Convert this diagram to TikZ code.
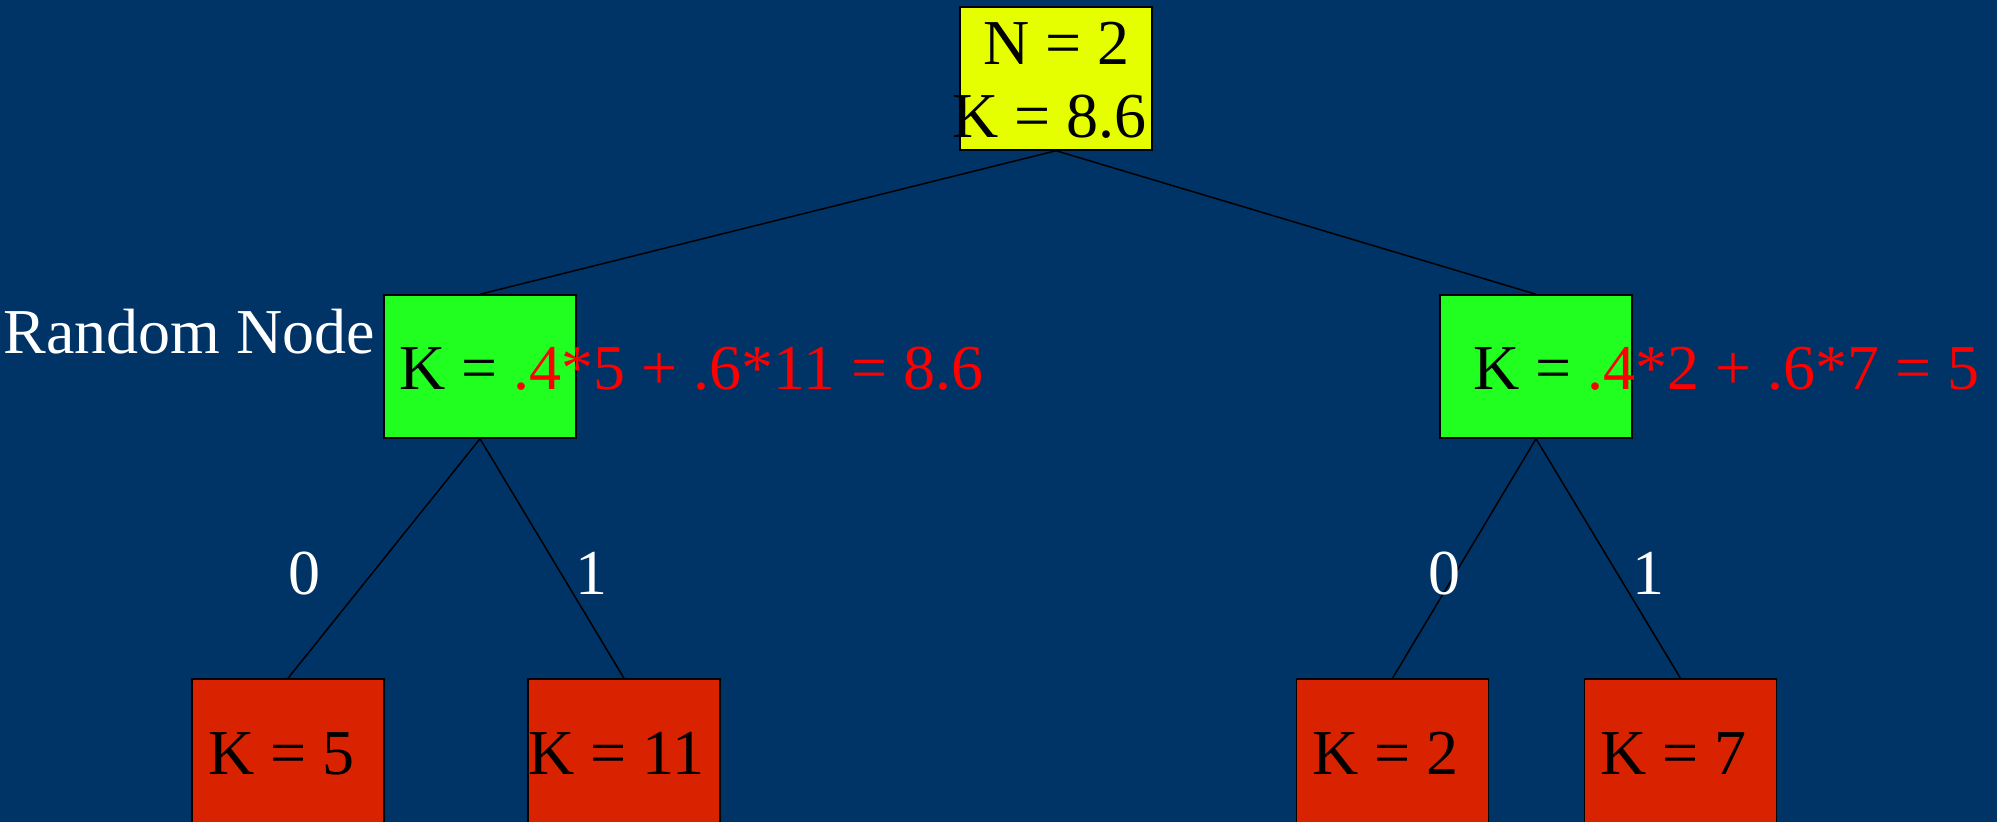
\documentclass[tikz,border=0pt]{standalone}
\usepackage{fontspec}
\setmainfont{Liberation Serif}
\definecolor{bg}{RGB}{0,51,102}
\definecolor{ybox}{RGB}{230,255,0}
\definecolor{gbox}{RGB}{32,255,32}
\definecolor{rbox}{RGB}{217,35,0}
\definecolor{rtxt}{RGB}{255,0,0}
\begin{document}
\begin{tikzpicture}[x=0.5pt,y=-0.5pt,
  boxbase/.style={draw=black,line width=0.75pt,inner sep=0pt,minimum width=96pt},
  rootbox/.style={boxbase,fill=ybox,minimum height=71.5pt},
  randbox/.style={boxbase,fill=gbox,minimum height=71.5pt},
  leafbox/.style={boxbase,fill=rbox,minimum height=85pt},
  txt/.style={inner sep=0pt,font=\fontsize{32}{36}\selectfont},
  edge/.style={draw=black,line width=0.75pt},
  lbl/.style={txt,text=white}]
\clip (0,0) rectangle (1997,822);
\fill[bg] (0,0) rectangle (1997,822);
% boxes
\node[rootbox] (root) at (1056,78.5) {};
\node[randbox] (rl) at (480,366.5) {};
\node[randbox] (rr) at (1536,366.5) {};
\node[leafbox] (l1) at (288,764) {};
\node[leafbox] (l2) at (624,764) {};
\node[leafbox] (l3) at (1392.5,764) {};
\node[leafbox] (l4) at (1680.5,764) {};
% connectors
\draw[edge] (root.south) -- (rl.north);
\draw[edge] (root.south) -- (rr.north);
\draw[edge] (rl.south) -- (l1.north);
\draw[edge] (rl.south) -- (l2.north);
\draw[edge] (rr.south) -- (l3.north);
\draw[edge] (rr.south) -- (l4.north);
% texts
\node[txt,anchor=base west] (tn) at (983,65) {N = 2};
\node[txt,anchor=base west] (tk) at (952,138) {K = 8.6};
\node[lbl,anchor=base west] (rn) at (3,354) {Random Node};
\node[txt,anchor=base west] (fl) at (399,390) {K = \textcolor{rtxt}{.4*5 + .6*11 = 8.6}};
\node[txt,anchor=base west] (fr) at (1473,390) {K = \textcolor{rtxt}{.4*2 + .6*7 = 5}};
\node[txt,anchor=base west] (k1) at (208,775) {K = 5};
\node[txt,anchor=base west] (k2) at (528,775) {K = 11};
\node[txt,anchor=base west] (k3) at (1312,775) {K = 2};
\node[txt,anchor=base west] (k4) at (1600,775) {K = 7};
\node[lbl,anchor=base] (e1) at (304,595) {0};
\node[lbl,anchor=base] (e2) at (591,595) {1};
\node[lbl,anchor=base] (e3) at (1444,595) {0};
\node[lbl,anchor=base] (e4) at (1648,595) {1};
\end{tikzpicture}
\end{document}
